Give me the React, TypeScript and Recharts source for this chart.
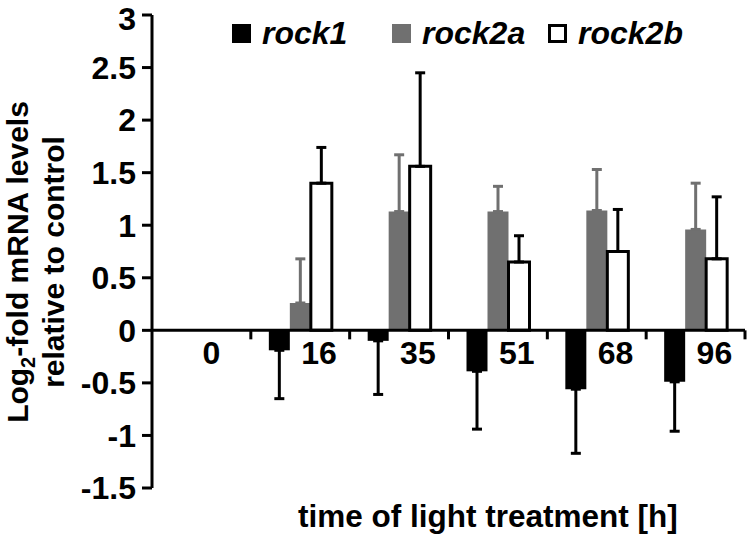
import { Bar, BarChart, ErrorBar, Legend, ReferenceLine, XAxis, YAxis } from 'recharts'

document.body.style.margin = '0'

const times = ['0', '16', '35', '51', '68', '96']
const rock1 = [0, -0.19, -0.1, -0.39, -0.56, -0.49]
const rock1Err = [0, 0.46, 0.51, 0.55, 0.61, 0.47]
const rock2a = [0, 0.26, 1.13, 1.13, 1.14, 0.96]
const rock2aErr = [0, 0.42, 0.54, 0.24, 0.39, 0.44]
const rock2b = [0, 1.4, 1.56, 0.65, 0.75, 0.68]
const rock2bErr = [0, 0.34, 0.89, 0.25, 0.4, 0.59]
const yTicks = [-1.5, -1, -0.5, 0, 0.5, 1, 1.5, 2, 2.5, 3]

const data = times.map((time, i) => ({
  time,
  rock1: rock1[i],
  rock1Err: rock1Err[i],
  rock2a: rock2a[i],
  rock2aErr: rock2aErr[i],
  rock2b: rock2b[i],
  rock2bErr: rock2bErr[i],
}))

const FONT = '"Liberation Sans", Arial, sans-serif'
const GRAY = '#707070'
const W = 750
const H = 537
const margin = { top: 15, right: 5, bottom: 0, left: 0 }
const yAxisWidth = 152
const xAxisHeight = 49
const yMin = yTicks[0]
const yMax = yTicks[yTicks.length - 1]
const plotW = W - margin.left - margin.right - yAxisWidth
const plotH = H - margin.top - margin.bottom - xAxisHeight
const zeroY = margin.top + (plotH * yMax) / (yMax - yMin)
const band = plotW / times.length

// error bars only go away from zero
const oneSided = (value: number, err: number) =>
  err ? (value < 0 ? [err, 0] : [0, err]) : null

const legendItems = [
  { name: 'rock1', fill: '#000', border: '#000', width: 160 },
  { name: 'rock2a', fill: GRAY, border: GRAY, width: 156 },
  { name: 'rock2b', fill: '#fff', border: '#000', width: 160 },
]

function LegendRow() {
  return (
    <div style={{ display: 'flex', paddingLeft: 232, paddingTop: 17, fontFamily: FONT }}>
      {legendItems.map(item => (
        <div key={item.name} style={{ display: 'flex', alignItems: 'center', width: item.width, height: 32 }}>
          <span
            style={{
              display: 'inline-block',
              boxSizing: 'border-box',
              width: 19,
              height: 19,
              background: item.fill,
              border: `3px solid ${item.border}`,
              marginRight: 11,
            }}
          />
          <span style={{ fontSize: 32, fontWeight: 'bold', fontStyle: 'italic', lineHeight: '32px' }}>
            {item.name}
          </span>
        </div>
      ))}
    </div>
  )
}

function CategoryTick({ x, payload }: any) {
  const edge = x + band / 2
  return (
    <g>
      <text x={x + 1} y={zeroY + 34} textAnchor='start' fontFamily={FONT} fontSize={32} fontWeight='bold' fill='#000'>
        {payload.value}
      </text>
      <line x1={edge} y1={zeroY} x2={edge} y2={zeroY + 9} stroke='#000' strokeWidth={3} />
    </g>
  )
}

function YTitle() {
  const cy = 262
  return (
    <g fontFamily={FONT} fontWeight='bold' fontSize={30} fill='#000'>
      <text transform={`translate(28, ${cy}) rotate(-90)`} textAnchor='middle'>
        Log<tspan dy={7} fontSize={20}>2</tspan>
        <tspan dy={-7}>-fold mRNA levels</tspan>
      </text>
      <text transform={`translate(64, ${cy}) rotate(-90)`} textAnchor='middle'>
        relative to control
      </text>
    </g>
  )
}

function XTitle() {
  return (
    <text x={298} y={527} fontFamily={FONT} fontWeight='bold' fontSize={31.5} fill='#000'>
      time of light treatment [h]
    </text>
  )
}

export default function App() {
  return (
    <BarChart width={W} height={H} data={data} margin={margin} barGap={0} barSize={21}>
      <XAxis
        dataKey='time'
        height={xAxisHeight}
        axisLine={false}
        tickLine={false}
        interval={0}
        tick={<CategoryTick />}
        label={<XTitle />}
      />
      <YAxis
        width={yAxisWidth}
        domain={[yMin, yMax]}
        ticks={yTicks}
        axisLine={{ stroke: '#000', strokeWidth: 3 }}
        tickLine={{ stroke: '#000', strokeWidth: 3 }}
        tickSize={10}
        tickMargin={6}
        tick={{ fill: '#000', fontSize: 32, fontWeight: 'bold', fontFamily: FONT }}
        label={<YTitle />}
      />
      <Legend verticalAlign='middle' align='center' wrapperStyle={{ top: 0, left: 0, width: W }} content={<LegendRow />} />
      <Bar dataKey='rock1' fill='#000' isAnimationActive={false}>
        <ErrorBar dataKey={(d: any) => oneSided(d.rock1, d.rock1Err)} stroke='#000' strokeWidth={3} width={5} />
      </Bar>
      <Bar dataKey='rock2a' fill={GRAY} isAnimationActive={false}>
        <ErrorBar dataKey={(d: any) => oneSided(d.rock2a, d.rock2aErr)} stroke={GRAY} strokeWidth={3} width={5} />
      </Bar>
      <Bar dataKey='rock2b' fill='#fff' stroke='#000' strokeWidth={3} isAnimationActive={false}>
        <ErrorBar dataKey={(d: any) => oneSided(d.rock2b, d.rock2bErr)} stroke='#000' strokeWidth={3} width={5} />
      </Bar>
      <ReferenceLine y={0} stroke='#000' strokeWidth={3} />
    </BarChart>
  )
}
